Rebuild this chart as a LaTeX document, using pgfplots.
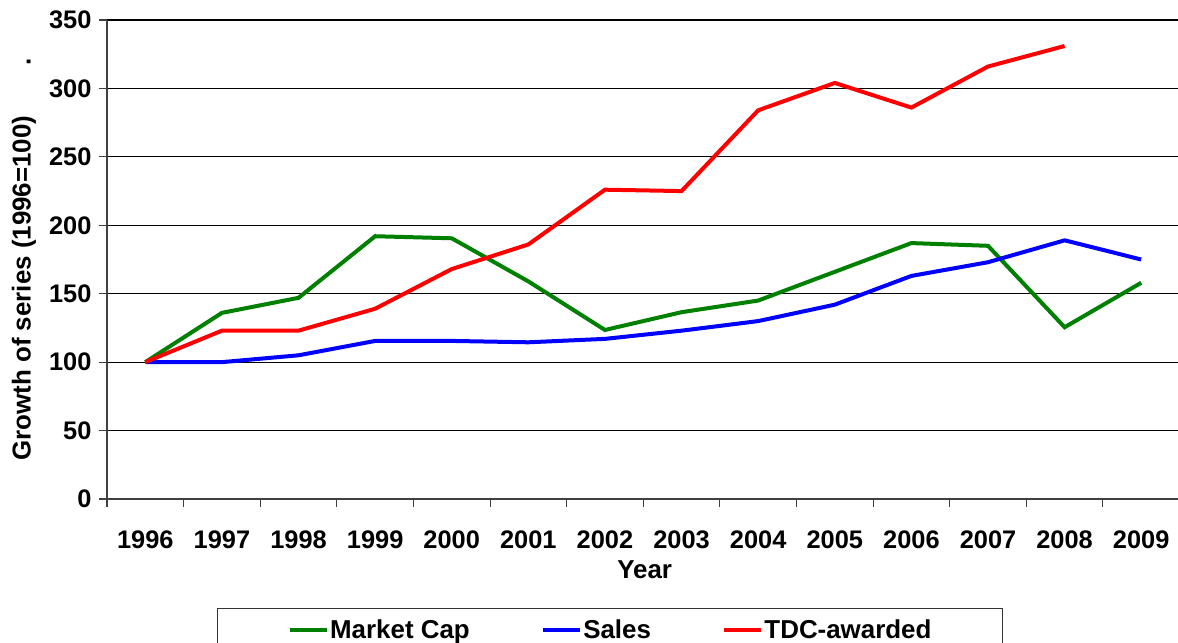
\documentclass[border=0pt]{standalone}
\usepackage{pgfplots}
\pgfplotsset{compat=1.18}
\usepackage{fontspec}
\setmainfont{Liberation Sans}
\definecolor{mgreen}{RGB}{0,128,0}
\definecolor{mblue}{RGB}{0,0,255}
\definecolor{mred}{RGB}{255,0,0}
\pgfplotstableread{
x mcap sales
0 100 100
1 136 100
2 147 105
3 192 115.5
4 190.5 115.5
5 159 114.5
6 123.5 117
7 136.5 123
8 145 130
9 166 142
10 187 163
11 185 173
12 125.5 189
13 158 175
}\datatable
\pgfplotstableread{
x tdc
0 100
1 123
2 123
3 139
4 168
5 186
6 226
7 225
8 284
9 304
10 286
11 316
12 331
}\tdctable
\begin{document}
\begin{tikzpicture}
\begin{axis}[
  at={(0,0)}, anchor=south west,
  scale only axis, width=1071bp, height=479bp,
  xmin=-0.5, xmax=13.48, ymin=0, ymax=350,
  axis x line*=bottom, axis y line*=left,
  axis line style={-, black!75, line width=1.3bp},
  xtick={0,...,13},
  xticklabels={1996,1997,1998,1999,2000,2001,2002,2003,2004,2005,2006,2007,2008,2009},
  major x tick style={draw=none},
  minor xtick={-0.5,0.5,...,12.5},
  ytick={0,50,...,350},
  ymajorgrids, major grid style={black, line width=1.1bp},
  tick align=outside,
  tick style={black!75, line width=1.1bp},
  major tick length=8bp, minor tick length=8bp,
  /pgf/number format/assume math mode=true,
  ticklabel style={font=\fontsize{25.5}{30}\selectfont\bfseries},
  xticklabel style={anchor=center, yshift=-33bp},
  yticklabel style={anchor=east, xshift=-4bp},
  xlabel={Year},
  xlabel style={at={(axis description cs:0.502,0)}, anchor=base, yshift=-79bp, font=\fontsize{26}{30}\selectfont\bfseries},
  ylabel={Growth of series (1996=100)\hspace{50bp}.},
  ylabel style={at={(axis description cs:-0.0775,0.5)}, anchor=center, font=\fontsize{26}{30}\selectfont\bfseries},
  legend columns=3,
  legend cell align=left,
  legend image code/.code={\draw[#1, line width=4.5bp] (0bp,0bp) -- (37bp,0bp);},
  legend style={at={(axis description cs:0.1027,-0.2276)}, anchor=north west,
    draw=black!80, line width=1.3bp, inner xsep=70bp, inner ysep=10bp,
    font=\fontsize{26}{30}\selectfont\bfseries,
    nodes={inner sep=1bp},
    /tikz/every even column/.append style={column sep=70bp}},
]
\addplot[mgreen, line width=4bp] table[x=x, y=mcap] {\datatable};
\addlegendentry{Market Cap}
\addplot[mblue, line width=4bp] table[x=x, y=sales] {\datatable};
\addlegendentry{Sales}
\addplot[mred, line width=4bp] table[x=x, y=tdc] {\tdctable};
\addlegendentry{TDC-awarded}
\end{axis}
\pgfresetboundingbox
\useasboundingbox (-107bp,-144bp) rectangle (1071bp,499bp);
\end{tikzpicture}
\end{document}
